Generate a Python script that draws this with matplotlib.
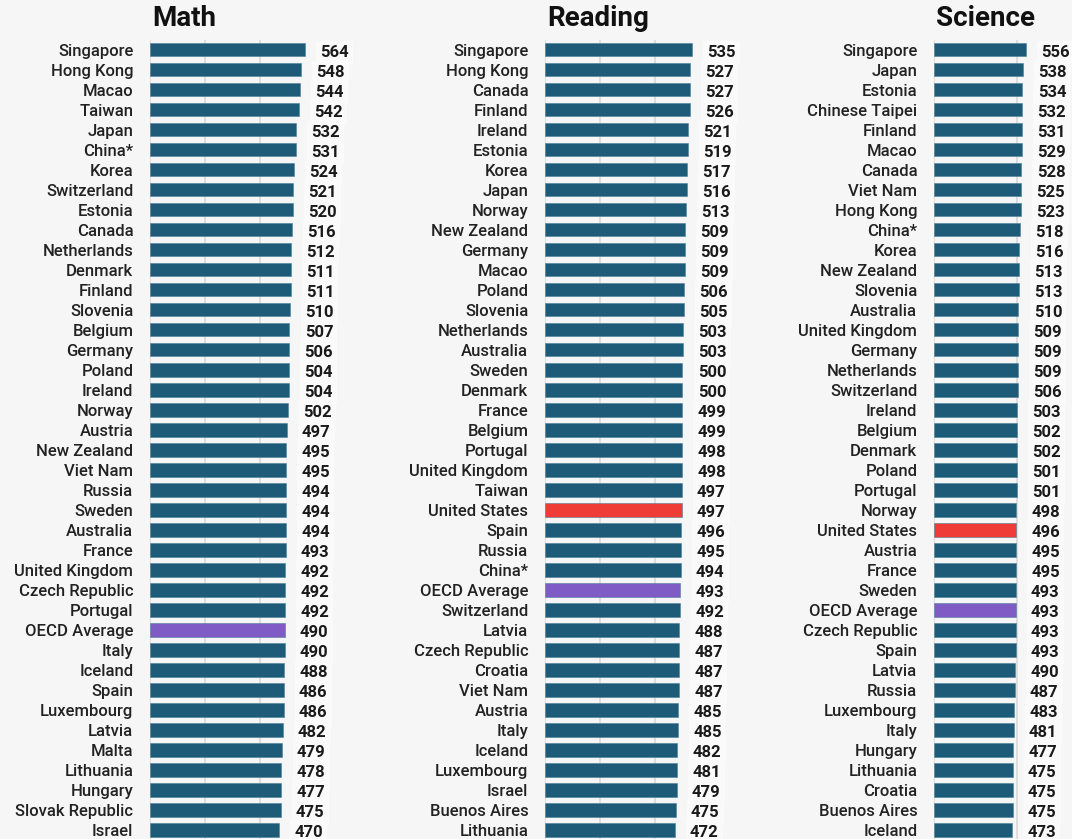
import matplotlib
matplotlib.use("Agg")
import matplotlib.pyplot as plt

plt.rcParams['font.family'] = ['Roboto', 'DejaVu Sans']

W, H = 1072, 839
BG = '#f6f6f6'
TEAL = '#1d5b79'
RED = '#f03c36'
PURPLE = '#805bc5'

math_names = ["Singapore", "Hong Kong", "Macao", "Taiwan", "Japan", "China*", "Korea",
              "Switzerland", "Estonia", "Canada", "Netherlands", "Denmark", "Finland",
              "Slovenia", "Belgium", "Germany", "Poland", "Ireland", "Norway", "Austria",
              "New Zealand", "Viet Nam", "Russia", "Sweden", "Australia", "France",
              "United Kingdom", "Czech Republic", "Portugal", "OECD Average", "Italy",
              "Iceland", "Spain", "Luxembourg", "Latvia", "Malta", "Lithuania", "Hungary",
              "Slovak Republic", "Israel"]
math_scores = [564, 548, 544, 542, 532, 531, 524, 521, 520, 516, 512, 511, 511, 510, 507,
               506, 504, 504, 502, 497, 495, 495, 494, 494, 494, 493, 492, 492, 492, 490,
               490, 488, 486, 486, 482, 479, 478, 477, 475, 470]

reading_names = ["Singapore", "Hong Kong", "Canada", "Finland", "Ireland", "Estonia", "Korea",
                 "Japan", "Norway", "New Zealand", "Germany", "Macao", "Poland", "Slovenia",
                 "Netherlands", "Australia", "Sweden", "Denmark", "France", "Belgium",
                 "Portugal", "United Kingdom", "Taiwan", "United States", "Spain", "Russia",
                 "China*", "OECD Average", "Switzerland", "Latvia", "Czech Republic", "Croatia",
                 "Viet Nam", "Austria", "Italy", "Iceland", "Luxembourg", "Israel",
                 "Buenos Aires", "Lithuania"]
reading_scores = [535, 527, 527, 526, 521, 519, 517, 516, 513, 509, 509, 509, 506, 505, 503,
                  503, 500, 500, 499, 499, 498, 498, 497, 497, 496, 495, 494, 493, 492, 488,
                  487, 487, 487, 485, 485, 482, 481, 479, 475, 472]

science_names = ["Singapore", "Japan", "Estonia", "Chinese Taipei", "Finland", "Macao", "Canada",
                 "Viet Nam", "Hong Kong", "China*", "Korea", "New Zealand", "Slovenia",
                 "Australia", "United Kingdom", "Germany", "Netherlands", "Switzerland",
                 "Ireland", "Belgium", "Denmark", "Poland", "Portugal", "Norway",
                 "United States", "Austria", "France", "Sweden", "OECD Average",
                 "Czech Republic", "Spain", "Latvia", "Russia", "Luxembourg", "Italy",
                 "Hungary", "Lithuania", "Croatia", "Buenos Aires", "Iceland"]
science_scores = [556, 538, 534, 532, 531, 529, 528, 525, 523, 518, 516, 513, 513, 510, 509,
                  509, 509, 506, 503, 502, 502, 501, 501, 498, 496, 495, 495, 493, 493, 493,
                  493, 490, 487, 483, 481, 477, 475, 475, 475, 473]

panels = [
    ("Math", math_names, math_scores, 150, 0.275, [0, 200, 400]),
    ("Reading", reading_names, reading_scores, 545, 0.2748, [0, 200, 400]),
    ("Science", science_names, science_scores, 934, 0.1655, [0, 500]),
]

fig = plt.figure(figsize=(W / 100, H / 100), dpi=100, facecolor=BG)

top_px, bot_px = 39.5, 840
for title, names, scores, left_px, scale, ticks in panels:
    xmax = 700
    ax = fig.add_axes([left_px / W, 1 - bot_px / H, xmax * scale / W, (bot_px - top_px) / H])
    ax.set_facecolor('none')
    colors = [RED if n == "United States" else PURPLE if n == "OECD Average" else TEAL
              for n in names]
    y = list(range(len(names)))
    ax.barh(y, scores, height=0.68, color=colors, edgecolor='#4a7f99', linewidth=0.4,
            zorder=2)
    ax.set_xlim(0, xmax)
    ax.set_ylim(len(names) - 0.5, -0.5)
    ax.set_xticks(ticks)
    ax.set_xticklabels([])
    ax.grid(axis='x', color='#d8d8d8', linewidth=1.2, zorder=0)
    ax.tick_params(axis='both', length=0)
    ax.tick_params(axis='y', pad=12)
    ax.set_yticks(y)
    ax.set_yticklabels(names, fontsize=12, color='#222222', fontweight='medium')
    for s in ax.spines.values():
        s.set_visible(False)
    for yi, v in zip(y, scores):
        ax.annotate(str(v), (v, yi), xytext=(11, -1), textcoords='offset points',
                    ha='left', va='center_baseline', fontsize=12, fontweight='bold',
                    color='#1a1a1a',
                    bbox=dict(boxstyle='square,pad=0.25', facecolor='#fafafa',
                              edgecolor='none'),
                    annotation_clip=False, zorder=3)
    fig.text(left_px / W + 2 / W, 1 - 18 / H, title, fontsize=20, fontweight='bold',
             color='#111111', ha='left', va='center')

fig.savefig("out.png", dpi=100, facecolor=BG)
